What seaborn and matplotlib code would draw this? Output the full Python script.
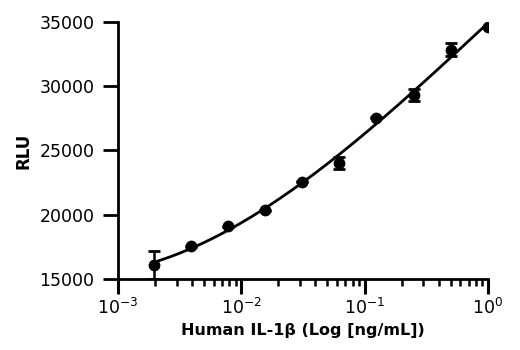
import numpy as np
import pandas as pd
import matplotlib
matplotlib.use("Agg")
import matplotlib.pyplot as plt
import matplotlib.ticker as mticker
import seaborn as sns

# IL-1beta standard curve: concentration (ng/mL), mean RLU and SD
conc = [0.00195, 0.0039, 0.0078, 0.0156, 0.03125, 0.0625, 0.125, 0.25, 0.5, 1.0]
rlu = [16100, 17550, 19100, 20350, 22550, 24050, 27550, 29300, 32850, 34600]
sd = [1100, 40, 40, 40, 40, 480, 40, 480, 520, 40]

x_ticks = [1e-3, 1e-2, 1e-1, 1e0]
y_ticks = [15000, 20000, 25000, 30000, 35000]

sns.set_theme(style="ticks")
font = ["Liberation Sans Narrow", "DejaVu Sans"]
plt.rcParams["font.family"] = font
plt.rcParams["text.color"] = "black"
plt.rcParams["axes.labelcolor"] = "black"
plt.rcParams["mathtext.fontset"] = "custom"
plt.rcParams["mathtext.rm"] = "Liberation Sans Narrow"
plt.rcParams["mathtext.it"] = "Liberation Sans Narrow"
plt.rcParams["mathtext.bf"] = "Liberation Sans Narrow:bold"

df = pd.DataFrame({"conc": conc, "rlu": rlu, "sd": sd})

# smooth curve fitted in log-concentration space
logx = np.log10(df["conc"].to_numpy())
coef = np.polyfit(logx, df["rlu"].to_numpy(), 3)
xs = np.linspace(logx.min(), logx.max(), 200)
fit = pd.DataFrame({"conc": 10 ** xs, "rlu": np.polyval(coef, xs)})

fig = plt.figure(figsize=(5.2, 3.5), dpi=100)
ax = fig.add_axes([0.227, 0.203, 0.711, 0.734])

ax.errorbar(df["conc"], df["rlu"], yerr=df["sd"], fmt="none",
            ecolor="black", elinewidth=1.8, capsize=4.5, capthick=2.0, zorder=3)
sns.lineplot(data=fit, x="conc", y="rlu", color="black", linewidth=2.0, ax=ax, zorder=2)
sns.scatterplot(data=df, x="conc", y="rlu", color="black", s=72, edgecolor="black",
                linewidth=0, ax=ax, zorder=4)

ax.set_xscale("log")
ax.set_xlim(1e-3, 1.0)
ax.set_ylim(15000, 35000)
ax.set_xticks(x_ticks)
ax.xaxis.set_major_formatter(mticker.LogFormatterSciNotation())
ax.xaxis.set_minor_locator(mticker.LogLocator(base=10, subs=np.arange(2, 10)))
ax.xaxis.set_minor_formatter(mticker.NullFormatter())
ax.set_yticks(y_ticks)

for s in ["top", "right"]:
    ax.spines[s].set_visible(False)
for s in ["left", "bottom"]:
    ax.spines[s].set_linewidth(2.0)
    ax.spines[s].set_color("black")

ax.tick_params(axis="x", which="major", length=11, width=2.2, color="black",
               labelsize=12.5, pad=3, labelcolor="black")
ax.tick_params(axis="x", which="minor", length=5, width=1.8, color="black")
ax.tick_params(axis="y", which="major", length=11, width=2.0, color="black",
               labelsize=12.5, pad=6, labelcolor="black")

ax.set_xlabel("Human IL-1β (Log [ng/mL])", fontsize=11.5, fontweight="bold",
              family=font, labelpad=3, color="black")
ax.set_ylabel("RLU", fontsize=12, fontweight="bold", family=font, labelpad=5,
              color="black")

fig.savefig("out.png", dpi=100)
